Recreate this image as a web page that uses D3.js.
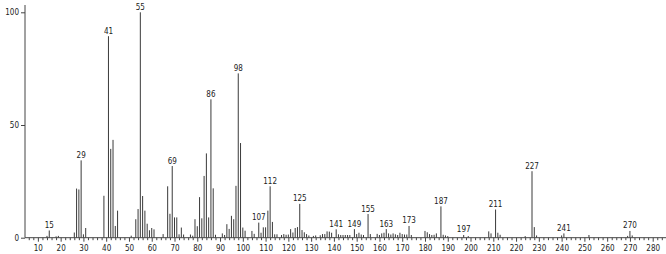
<!DOCTYPE html>
<html>
<head>
<meta charset="utf-8">
<script src="https://cdn.jsdelivr.net/npm/d3@7/dist/d3.min.js"></script>
<style>
html,body{margin:0;padding:0;background:#fff;}
svg{display:block;}
text{font-family:"DejaVu Sans Condensed","DejaVu Sans",sans-serif;fill:#222;}
</style>
</head>
<body>
<svg id="chart" width="666" height="254"></svg>
<script>
// m/z values and relative intensities (%)
const mz = [14,15,18,19,26,27,28,29,30,31,39,41,42,43,44,45,51,53,54,55,56,57,58,59,60,61,65,67,68,69,70,71,72,73,74,77,78,79,80,81,82,83,84,85,86,87,88,91,92,93,94,95,96,97,98,99,100,101,104,105,107,108,109,110,111,112,113,114,115,117,118,119,120,121,122,123,124,125,126,127,128,129,131,132,134,135,136,137,138,139,141,142,143,144,145,146,147,149,150,151,152,153,155,156,159,160,161,162,163,164,165,166,167,168,169,170,171,172,173,174,180,181,182,183,184,185,187,188,189,190,197,199,208,209,211,212,213,224,227,228,229,240,241,252,269,270,271];
const intensity = [0.8,3.2,0.6,0.8,2.3,21.8,21.4,34.3,1.5,4.3,18.6,89.4,39.4,43.4,5.2,12,0.9,8.2,12.7,100,18.5,12,6.2,3.3,4.3,3.7,1.6,22.8,10.6,31.8,9,9,1.5,4.5,1.4,1.4,0.9,8.2,5.1,18,8.6,27.4,37.4,9,61.4,21.9,1.3,1.9,1.2,6,3.9,9.7,8.2,23,72.9,42,4.5,3.1,3,1.7,6.7,2.2,4.6,4.6,12,22.8,7,1.5,1.5,1.2,1.6,1.3,1.4,3.8,2.3,4.3,4.7,15,3.4,2.4,1.6,1,0.8,1,1.1,1.6,1.6,2.8,2.7,2.2,3.7,1.5,1.2,1.2,1.2,1.2,1.2,3.8,1.6,2.2,1.4,1.2,10.5,1.6,1.7,1.2,1.9,2.2,3.8,1.9,1.4,1.9,1.5,1.2,2.2,1.6,1.4,1.4,5.2,1.2,3,2.4,1.6,1.2,1.3,1.9,13.9,1.3,1,0.7,1.2,0.7,2.8,1.9,12.5,2.2,1.3,0.7,29.5,4.7,1,1,1.9,1.2,0.8,3,1];
const labeledPeaks = [15,29,41,55,69,86,98,107,112,125,141,149,155,163,173,187,197,211,227,241,270];
const xTickValues = [10,20,30,40,50,60,70,80,90,100,110,120,130,140,150,160,170,180,190,200,210,220,230,240,250,260,270,280];
const yTickValues = [0,50,100];

const svg = d3.select("#chart");
const x = d3.scaleLinear().domain([0, 280]).range([15.1, 652.7]);
const y = d3.scaleLinear().domain([0, 100]).range([237.7, 12.3]);
const x0 = 25, x1 = 666, yTop = 5;
const font = "'DejaVu Sans Condensed','DejaVu Sans',sans-serif";

const data = mz.map((m, i) => ({mz: m, v: intensity[i]}));

// bars
svg.append("g").selectAll("line").data(data).join("line")
  .attr("x1", d => x(d.mz)).attr("x2", d => x(d.mz))
  .attr("y1", y(0)).attr("y2", d => y(d.v))
  .attr("stroke", "#3a3a3a").attr("stroke-width", 1);

// minor x ticks
const minor = d3.range(6, 287, 2).filter(v => v % 10 !== 0);
svg.append("g").attr("transform", `translate(0,${y(0)})`)
  .call(d3.axisBottom(x).tickValues(minor).tickSize(2.5).tickFormat(""))
  .call(g => g.select(".domain").remove())
  .call(g => g.selectAll("line").attr("stroke", "#444"));

// major x ticks
svg.append("g").attr("transform", `translate(0,${y(0)})`)
  .call(d3.axisBottom(x).tickValues(xTickValues).tickSize(4).tickPadding(4).tickFormat(d3.format("d")))
  .call(g => g.select(".domain").remove())
  .call(g => g.selectAll("line").attr("stroke", "#444"))
  .call(g => g.selectAll("text").attr("font-size", 8).attr("fill", "#222").attr("font-family", font));

// x axis line
svg.append("line").attr("x1", x0).attr("x2", x1).attr("y1", y(0)).attr("y2", y(0))
  .attr("stroke", "#444").attr("stroke-width", 1);

// y axis
svg.append("g").attr("transform", `translate(${x0},0)`)
  .call(d3.axisLeft(y).tickValues(yTickValues).tickSize(4).tickPadding(2).tickFormat(d3.format("d")))
  .call(g => g.select(".domain").remove())
  .call(g => g.selectAll("line").attr("stroke", "#444"))
  .call(g => g.selectAll("text").attr("font-size", 8).attr("fill", "#222").attr("font-family", font));
svg.append("line").attr("x1", x0).attr("x2", x0).attr("y1", yTop).attr("y2", y(0))
  .attr("stroke", "#444").attr("stroke-width", 1);

// peak labels
const lab = data.filter(d => labeledPeaks.includes(d.mz));
svg.append("g").selectAll("text").data(lab).join("text")
  .attr("x", d => x(d.mz)).attr("y", d => Math.max(y(d.v) - 2.5, 7))
  .attr("text-anchor", "middle").attr("font-size", 8).attr("font-family", font)
  .text(d => d.mz);
</script>
</body>
</html>
